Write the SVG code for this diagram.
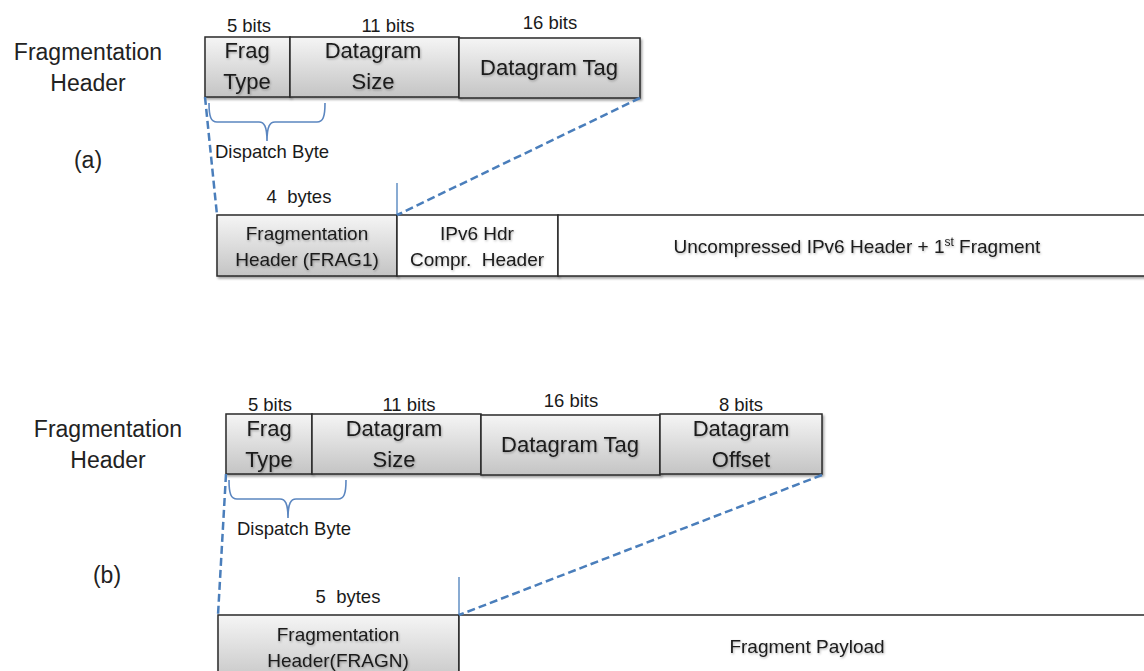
<svg xmlns="http://www.w3.org/2000/svg" width="1144" height="671" viewBox="0 0 1144 671">
<defs>
  <linearGradient id="gray" x1="0" y1="0" x2="0" y2="1">
    <stop offset="0" stop-color="#f5f5f5"/>
    <stop offset="1" stop-color="#c4c4c4"/>
  </linearGradient>
  <filter id="sh" x="-10%" y="-10%" width="130%" height="140%">
    <feDropShadow dx="1.5" dy="2" stdDeviation="1.2" flood-color="#000" flood-opacity="0.35"/>
  </filter>
  <filter id="tsh" x="-5%" y="-20%" width="115%" height="160%">
    <feDropShadow dx="0.8" dy="1.2" stdDeviation="0.8" flood-color="#000" flood-opacity="0.3"/>
  </filter>
</defs>
<style>
  text { font-family: "Liberation Sans", Arial, sans-serif; fill: #1a1a1a; text-anchor: middle; }
  .lbl { font-size: 23px; fill: #222; }
  .bits { font-size: 18.5px; }
  .box { font-size: 22px; filter: url(#tsh); }
  .row { font-size: 19px; filter: url(#tsh); }
  .small { font-size: 18.5px; }
  .g { fill: url(#gray); stroke: #2a2a2a; stroke-width: 1.5; filter: url(#sh); }
  .w { fill: #fff; stroke: #2a2a2a; stroke-width: 1.5; filter: url(#sh); }
  .dash { stroke: #4a7ebb; stroke-width: 2.5; stroke-dasharray: 8 4; fill: none; }
  .tick { stroke: #4a7ebb; stroke-width: 1.3; fill: none; }
  .brace { stroke: #5b86c0; stroke-width: 1.6; fill: none; }
</style>

<!-- Part (a) -->
<g id="label-a">
  <text class="lbl" x="88" y="60">Fragmentation</text>
  <text class="lbl" x="88" y="91">Header</text>
  <text class="lbl" x="88" y="168">(a)</text>
</g>
<g id="hdr-a-fragtype">
  <rect class="g" x="205" y="37" width="85" height="60"/>
  <text class="bits" x="249" y="32">5 bits</text>
  <text class="box" x="247" y="58">Frag</text>
  <text class="box" x="247" y="89">Type</text>
</g>
<g id="hdr-a-dgsize">
  <rect class="g" x="290" y="37" width="169" height="60"/>
  <text class="bits" x="388" y="32">11 bits</text>
  <text class="box" x="373" y="58">Datagram</text>
  <text class="box" x="373" y="89">Size</text>
</g>
<g id="hdr-a-dgtag">
  <rect class="g" x="459" y="38" width="181" height="60"/>
  <text class="bits" x="550" y="29">16 bits</text>
  <text class="box" x="549" y="75">Datagram Tag</text>
</g>
<g id="dispatch-a">
  <text class="small" x="272" y="158">Dispatch Byte</text>
</g>
<g id="bytes-a">
  <text class="small" x="299" y="203" xml:space="preserve">4  bytes</text>
</g>
<g id="frag1">
  <rect class="g" x="217" y="215" width="180" height="61"/>
  <text class="row" x="307" y="240">Fragmentation</text>
  <text class="row" x="307" y="266">Header (FRAG1)</text>
</g>
<g id="iphc">
  <rect class="w" x="397" y="215" width="161" height="61"/>
  <text class="row" x="477" y="240">IPv6 Hdr</text>
  <text class="row" x="477" y="266" xml:space="preserve">Compr.  Header</text>
</g>
<g id="payload-a">
  <rect class="w" x="558" y="215" width="600" height="61"/>
  <text class="row" x="857" y="253">Uncompressed IPv6 Header + 1<tspan font-size="12" dy="-7">st</tspan><tspan dy="7"> Fragment</tspan></text>
</g>

<!-- Part (b) -->
<g id="label-b">
  <text class="lbl" x="108" y="437">Fragmentation</text>
  <text class="lbl" x="108" y="468">Header</text>
  <text class="lbl" x="107" y="583">(b)</text>
</g>
<g id="hdr-b-fragtype">
  <rect class="g" x="226" y="414" width="86" height="60"/>
  <text class="bits" x="270" y="411">5 bits</text>
  <text class="box" x="269" y="436">Frag</text>
  <text class="box" x="269" y="467">Type</text>
</g>
<g id="hdr-b-dgsize">
  <rect class="g" x="312" y="414" width="169" height="60"/>
  <text class="bits" x="409" y="411">11 bits</text>
  <text class="box" x="394" y="436">Datagram</text>
  <text class="box" x="394" y="467">Size</text>
</g>
<g id="hdr-b-dgtag">
  <rect class="g" x="481" y="415" width="179" height="60"/>
  <text class="bits" x="571" y="407">16 bits</text>
  <text class="box" x="570" y="452">Datagram Tag</text>
</g>
<g id="hdr-b-dgoffset">
  <rect class="g" x="660" y="414" width="162" height="60"/>
  <text class="bits" x="741" y="411">8 bits</text>
  <text class="box" x="741" y="436">Datagram</text>
  <text class="box" x="741" y="467">Offset</text>
</g>
<g id="dispatch-b">
  <text class="small" x="294" y="535">Dispatch Byte</text>
</g>
<g id="bytes-b">
  <text class="small" x="348" y="603" xml:space="preserve">5  bytes</text>
</g>
<g id="fragn">
  <rect class="g" x="218" y="615" width="241" height="70"/>
  <text class="row" x="338" y="641">Fragmentation</text>
  <text class="row" x="338" y="667">Header(FRAGN)</text>
</g>
<g id="payload-b">
  <rect class="w" x="459" y="615" width="700" height="70"/>
  <text class="row" x="807" y="653">Fragment Payload</text>
</g>

<!-- Connectors -->
<g id="connectors">
  <line class="dash" x1="205" y1="97" x2="217" y2="215"/>
  <line class="dash" x1="640" y1="98" x2="397" y2="215"/>
  <line class="tick" x1="397" y1="183" x2="397" y2="215"/>
  <path class="brace" d="M209,103 C209,117 211,122 217,122 L259,122 C264,122 267,126 267,141 C267,126 270,122 275,122 L317,122 C323,122 325,117 325,103"/>

  <line class="dash" x1="226" y1="474" x2="218" y2="615"/>
  <line class="dash" x1="822" y1="475" x2="459" y2="615"/>
  <line class="tick" x1="459" y1="577" x2="459" y2="615"/>
  <path class="brace" d="M229,480 C229,494 231,499 237,499 L280,499 C285,499 288,503 288,518 C288,503 291,499 296,499 L338,499 C344,499 346,494 346,480"/>
</g>
</svg>
